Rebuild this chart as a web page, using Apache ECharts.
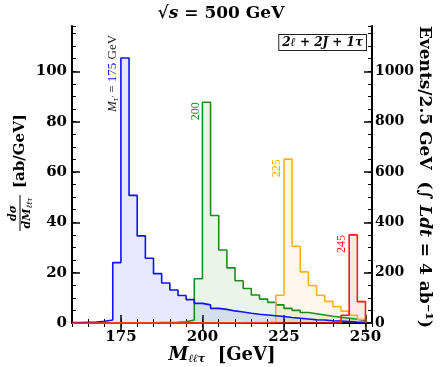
<!DOCTYPE html>
<html>
<head>
<meta charset="utf-8">
<script src="https://cdn.jsdelivr.net/npm/echarts@6/dist/echarts.min.js"></script>
<style>
  html, body { margin: 0; padding: 0; background: #fff; }
  #chart { width: 440px; height: 367px; }
</style>
</head>
<body>
<div id="chart"></div>
<script>
// histogram bins: 2.5 GeV wide, starting at 160 GeV
const binStart = 160;
const binWidth = 2.5;

// dσ/dM [ab/GeV] per bin, one array per τ' mass
const mass175 = [0.2, 0.3, 0.4, 0.7, 1.2, 24.0, 105.3, 50.7, 34.6, 25.7, 19.6, 15.9,
  13.1, 10.9, 9.3, 7.8, 7.2, 5.8, 5.4, 4.8, 4.4, 3.9, 3.5, 3.2,
  2.9, 2.6, 2.2, 1.9, 1.6, 1.3, 1.2, 0.9, 0.8, 0.6, 0.4, 0.3];
const mass200 = [0, 0, 0, 0, 0, 0, 0, 0.1, 0.1, 0.1, 0.2, 0.2,
  0.3, 0.5, 1.2, 17.6, 87.7, 42.7, 29.0, 21.9, 16.8, 13.7, 11.1, 9.5,
  8.2, 7.2, 5.8, 5.0, 4.2, 3.7, 3.2, 2.7, 2.3, 1.9, 1.5, 1.0];
const mass225 = [0, 0, 0, 0, 0, 0, 0, 0, 0, 0, 0, 0,
  0, 0, 0, 0, 0, 0, 0.1, 0.1, 0.1, 0.2, 0.2, 0.3,
  0.5, 11.0, 65.1, 30.5, 20.3, 14.9, 11.0, 8.6, 6.5, 4.7, 3.1, 1.5];
const mass245 = [0, 0, 0, 0, 0, 0, 0, 0, 0, 0, 0, 0,
  0, 0, 0, 0, 0, 0, 0, 0, 0, 0, 0, 0,
  0, 0, 0, 0, 0, 0, 0, 0, 0, 3.1, 35.0, 8.5];

const xTicks = [175, 200, 225, 250];
const peakLabels = ['175', '200', '225', '245'];

const serif = "'DejaVu Serif', 'Liberation Serif', serif";
const thin = "'Liberation Serif', 'DejaVu Serif', serif";

function stepPoints(vals) {
  const pts = vals.map((v, i) => [binStart + i * binWidth, v]);
  const end = binStart + vals.length * binWidth;
  pts.push([end, vals[vals.length - 1]]);
  pts.push([end, 0]);
  return pts;
}

function histSeries(vals, line, fill) {
  return {
    type: 'line',
    step: 'end',
    data: stepPoints(vals),
    showSymbol: false,
    xAxisIndex: 0,
    yAxisIndex: 0,
    lineStyle: { color: line, width: 1.6 },
    areaStyle: { color: fill, origin: 0 },
    silent: true,
    animation: false
  };
}

const chart = echarts.init(document.getElementById('chart'), null, { renderer: 'canvas' });

const minorX = (pos) => ({
  type: 'value', position: pos, min: 160, max: 252, interval: 5,
  axisLine: { show: true, lineStyle: { color: '#000', width: 2 } },
  axisTick: { show: true, inside: true, length: 4, lineStyle: { color: '#000', width: 1 } },
  axisLabel: { show: false }, splitLine: { show: false }
});
const majorX = (pos, labels) => ({
  type: 'value', position: pos, min: 160, max: 252,
  axisLine: { show: false },
  axisTick: { show: true, inside: true, length: 8, customValues: xTicks, lineStyle: { color: '#000', width: 1.5 } },
  axisLabel: { show: labels, customValues: xTicks, color: '#000', fontFamily: serif, fontWeight: 'bold', fontSize: 15, margin: 7 },
  splitLine: { show: false }
});
const majorY = (pos, max, interval) => ({
  type: 'value', position: pos, min: 0, max: max, interval: interval,
  axisLine: { show: true, lineStyle: { color: '#000', width: 2 } },
  axisTick: { show: true, inside: true, length: 8, lineStyle: { color: '#000', width: 1.5 } },
  axisLabel: {
    color: '#000', fontFamily: serif, fontWeight: 'bold', fontSize: pos === 'left' ? 15 : 14,
    margin: pos === 'left' ? 5 : 3, showMaxLabel: false, formatter: (v) => String(v)
  },
  splitLine: { show: false }
});
const minorY = (pos, max, interval) => ({
  type: 'value', position: pos, min: 0, max: max, interval: interval,
  axisLine: { show: false },
  axisTick: { show: true, inside: true, length: 4, lineStyle: { color: '#000', width: 1 } },
  axisLabel: { show: false }, splitLine: { show: false }
});

const staticGraphics = [
  {
    id: 'title', type: 'text', x: 221, y: 14,
    style: {
      text: '{b|√}{i|s}{b| = 500 GeV}',
      align: 'center', verticalAlign: 'middle', textAlign: 'center', textVerticalAlign: 'middle',
      rich: {
        b: { fontFamily: serif, fontWeight: 'bold', fontSize: 17, fill: '#000' },
        i: { fontFamily: serif, fontStyle: 'italic', fontWeight: 'bold', fontSize: 17, fill: '#000' }
      }
    }
  },
  {
    id: 'channel', type: 'text', x: 366, y: 35,
    style: {
      text: '2ℓ + 2J + 1τ', fontFamily: serif, fontStyle: 'italic', fontWeight: 'bold', fontSize: 12, fill: '#000',
      align: 'right', verticalAlign: 'top', textAlign: 'right', textVerticalAlign: 'top',
      backgroundColor: '#fff', borderColor: '#222', borderWidth: 1, padding: [2, 3, 1, 3]
    }
  },
  {
    id: 'ylabel', type: 'group', x: 20, y: 213, rotation: Math.PI / 2,
    children: [
      { type: 'text', style: { text: 'dσ', x: 0, y: -1, fontFamily: serif, fontStyle: 'italic', fontWeight: 'bold', fontSize: 11, fill: '#000',
        align: 'center', verticalAlign: 'bottom', textAlign: 'center', textVerticalAlign: 'bottom' } },
      { type: 'line', shape: { x1: -18, y1: 0, x2: 18, y2: 0 }, style: { stroke: '#000', lineWidth: 1 } },
      { type: 'text', style: { text: '{i|dM}{s|ℓℓτ}', x: 0, y: 1,
        align: 'center', verticalAlign: 'top', textAlign: 'center', textVerticalAlign: 'top',
        rich: {
          i: { fontFamily: serif, fontStyle: 'italic', fontWeight: 'bold', fontSize: 11, fill: '#000' },
          s: { fontFamily: serif, fontStyle: 'italic', fontSize: 8, fill: '#000', padding: [5, 0, 0, 0] }
        } } },
      { type: 'text', style: { text: '[ab/GeV]', x: 25, y: 0, fontFamily: serif, fontWeight: 'bold', fontSize: 15, fill: '#000',
        align: 'left', verticalAlign: 'middle', textAlign: 'left', textVerticalAlign: 'middle' } }
    ]
  },
  {
    id: 'ylabel2', type: 'text', x: 424, y: 177, rotation: -Math.PI / 2,
    style: {
      text: '{b|Events/2.5 GeV  (∫ }{i|Ldt}{b| = 4 ab⁻¹)}',
      align: 'center', verticalAlign: 'middle', textAlign: 'center', textVerticalAlign: 'middle',
      rich: {
        b: { fontFamily: serif, fontWeight: 'bold', fontSize: 17, fill: '#000' },
        i: { fontFamily: serif, fontStyle: 'italic', fontWeight: 'bold', fontSize: 17, fill: '#000' }
      }
    }
  },
  {
    id: 'xlabel', type: 'text', x: 222, y: 355,
    style: {
      text: '{i|M}{s|ℓℓτ}{b|  [GeV]}',
      align: 'center', verticalAlign: 'middle', textAlign: 'center', textVerticalAlign: 'middle',
      rich: {
        i: { fontFamily: serif, fontStyle: 'italic', fontWeight: 'bold', fontSize: 18, fill: '#000' },
        s: { fontFamily: serif, fontStyle: 'italic', fontWeight: 'bold', fontSize: 11, fill: '#000', padding: [9, 0, 0, 0] },
        b: { fontFamily: serif, fontWeight: 'bold', fontSize: 18, fill: '#000' }
      }
    }
  }
];

const option = {
  animation: false,
  backgroundColor: '#fff',
  grid: { left: 72, right: 68, top: 26, bottom: 44, containLabel: false, outerBoundsMode: 'none' },
  xAxis: [minorX('bottom'), majorX('bottom', true), minorX('top'), majorX('top', false)],
  yAxis: [majorY('left', 118, 20), minorY('left', 118, 5), majorY('right', 1180, 200), minorY('right', 1180, 50)],
  series: [
    histSeries(mass200, '#1f8a1f', 'rgba(40,140,40,0.14)'),
    histSeries(mass225, '#ffb020', 'rgba(255,170,20,0.13)'),
    histSeries(mass175, '#1010ff', 'rgba(20,20,255,0.14)'),
    histSeries(mass245, '#ff1a1a', 'rgba(255,20,20,0.14)')
  ],
  graphic: staticGraphics
};

chart.setOption(option);

// rotated mass labels beside each peak bin
const sets = [mass175, mass200, mass225, mass245];
const colors = ['#1010ff', '#1f8a1f', '#ffa500', '#ff1a1a'];
const labelGraphics = sets.map((vals, k) => {
  let idx = 0;
  vals.forEach((v, i) => { if (v > vals[idx]) idx = i; });
  const p = chart.convertToPixel({ xAxisIndex: 0, yAxisIndex: 0 }, [binStart + idx * binWidth, vals[idx]]);
  const isFirst = k === 0;
  return {
    id: 'peak' + k, type: 'text', x: p[0] - 1, y: isFirst ? p[1] - 23 : p[1], rotation: Math.PI / 2,
    style: isFirst ? {
      text: '{m|M}{s|τ′}{k| = }{c|' + peakLabels[k] + '}{k| GeV}',
      align: 'right', verticalAlign: 'bottom', textAlign: 'right', textVerticalAlign: 'bottom',
      rich: {
        m: { fontFamily: thin, fontStyle: 'italic', fontSize: 13, fill: '#222' },
        s: { fontFamily: thin, fontStyle: 'italic', fontSize: 9, fill: '#222', padding: [5, 0, 0, 0] },
        k: { fontFamily: thin, fontSize: 13, fill: '#222' },
        c: { fontFamily: thin, fontSize: 13, fill: colors[k] }
      }
    } : {
      text: peakLabels[k], fontFamily: thin, fontSize: 12, fill: colors[k],
      align: 'right', verticalAlign: 'bottom', textAlign: 'right', textVerticalAlign: 'bottom'
    }
  };
});

chart.setOption({ graphic: staticGraphics.concat(labelGraphics) });
</script>
</body>
</html>
